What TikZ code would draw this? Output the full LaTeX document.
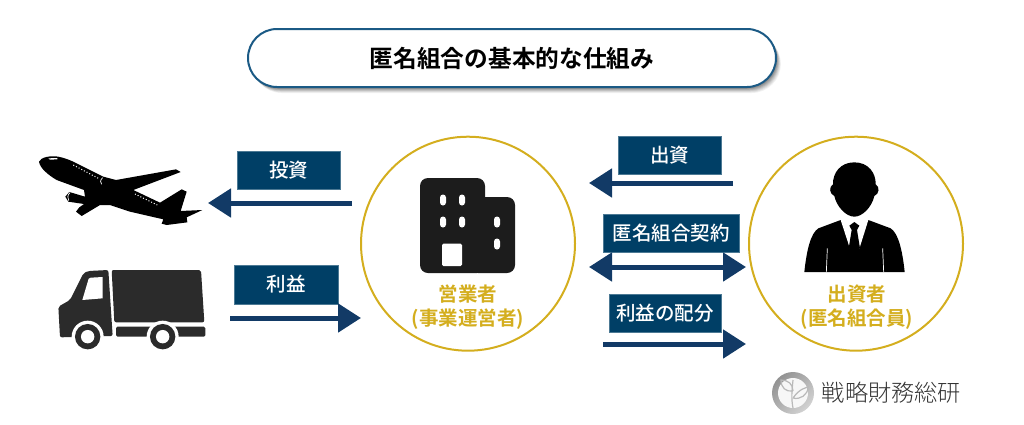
\documentclass[tikz,border=0pt]{standalone}
\usepackage{fontspec}
\usetikzlibrary{arrows.meta}
\newfontfamily\jpr{Noto Sans CJK JP Medium}
\newfontfamily\jpb{Noto Sans CJK JP Bold}
\newfontfamily\jpl{Noto Sans CJK JP Light}
\definecolor{navybox}{HTML}{003F66}
\definecolor{navyarrow}{HTML}{123A66}
\definecolor{gold}{HTML}{D4AE1E}
\definecolor{pillline}{HTML}{1B5A85}
\definecolor{darkicon}{HTML}{1C1C1C}
\definecolor{truckc}{HTML}{2B2B2B}
\tikzset{
  boxlabel/.style={fill=navybox,draw=navybox!70!white,line width=.5pt,text=white,font=\jpr\fontsize{19.5}{19.5}\selectfont,inner sep=0pt,anchor=center},
  flowarrow/.style={draw=navyarrow,line width=5pt,-{Triangle[length=23pt,width=28pt]}},
  bothflow/.style={draw=navyarrow,line width=5pt,{Triangle[length=23pt,width=28pt]}-{Triangle[length=23pt,width=28pt]}},
  partycircle/.style={circle,draw=gold,line width=2pt,fill=white,minimum size=214pt,inner sep=0pt},
  partylabel/.style={text=gold,font=\jpb\fontsize{19.5}{24}\selectfont,align=center},
}
\begin{document}
\begin{tikzpicture}[x=1pt,y=-1pt]
\useasboundingbox (0,0) rectangle (1024,424);
% title
\foreach \o/\a in {8/.05,7/.06,6/.07,5/.08,4/.09,3/.1,2/.1}{
  \fill[black,opacity=\a,rounded corners=29pt] ({248+\o*.6},{29+\o*.75}) rectangle ({776+\o*.6},{87+\o*.75});
}
\node[draw=pillline,line width=2pt,fill=white,rounded corners=29pt,minimum width=528pt,minimum height=58pt,inner sep=0pt,font=\jpb\fontsize{23.7}{24}\selectfont] (title) at (512,58) {匿名組合の基本的な仕組み};
% circles
\node[partycircle] (biz) at (468,243.7) {};
\node[partycircle] (inv) at (856,243.7) {};
% building
\fill[darkicon,rounded corners=8pt] (420,178) rectangle (485,273);
\fill[darkicon,rounded corners=8pt] (470,197) rectangle (515,273);
\foreach \x/\y in {443/200,462/200,443/222,462/222,497/222,497/244}{
  \fill[white,rounded corners=3pt] ({\x-3},{\y-5.5}) rectangle ({\x+3},{\y+5.5});
}
\fill[white,rounded corners=1.5pt] (442,243.5) rectangle (462,266);
\node[partylabel] (bizlabel) at (468,307) {営業者\\(事業運営者)};
\node[partylabel] (invlabel) at (857,307) {出資者\\(匿名組合員)};
% person
\begin{scope}[shift={(740,130)},x=1pt/3,y=-1pt/3]
\fill[black] (343,97) .. controls (300,97) and (278,130) .. (279,163) .. controls (266,170) and (268,192) .. (283,198) .. controls (290,230) and (318,260) .. (343,260) .. controls (368,260) and (396,230) .. (403,198) .. controls (418,192) and (420,170) .. (407,163) .. controls (408,130) and (386,97) .. (343,97) -- cycle;
\fill[black] (193,426) .. controls (200,360) and (212,310) .. (235,295) -- (302,270) -- (385,270) -- (452,295) .. controls (475,310) and (487,360) .. (494,426) -- cycle;
\fill[white] (302,270) -- (385,270) -- (358,356) -- (330,356) -- cycle;
\fill[black] (343,276) -- (358,287) -- (351,300) -- (360,355) -- (343,362) -- (326,355) -- (335,300) -- (328,287) -- cycle;
\draw[white,line width=.7pt] (262,355) -- (259,426);
\draw[white,line width=.7pt] (428,355) -- (431,426);
\end{scope}
% airplane
\begin{scope}[shift={(20,130)},x=1pt/3,y=-1pt/3]
\fill[black] (57,95) .. controls (62,82) and (90,76) .. (115,80) .. controls (135,84) and (150,90) .. (170,100) -- (250,140) -- (288,150) -- (468,118) -- (482,126) -- (340,180) -- (420,218) -- (485,178) -- (500,185) -- (482,243) -- (547,240) -- (500,262) -- (502,277) -- (440,285) -- (425,281) -- (430,268) -- (330,245) -- (270,225) -- (240,225) -- (185,258) -- (168,245) -- (178,232) -- (192,222) -- (145,215) -- (136,200) -- (148,186) -- (195,200) -- (192,180) -- (110,150) .. controls (85,135) and (60,115) .. (57,95) -- cycle;
\draw[white,line width=1pt,dash pattern=on 1pt off 2pt] (160,105) -- (235,145);
\draw[white,line width=1pt,dash pattern=on 1pt off 2pt] (345,192) -- (412,225);
\draw[white,line width=.7pt] (248,143) .. controls (240,150) and (240,158) .. (245,163);
\draw[white,line width=.7pt] (150,188) .. controls (142,195) and (142,205) .. (146,212);
\fill[white] (85,85) -- (112,84) -- (112,88) -- (90,89) -- cycle;
\end{scope}
% truck
\begin{scope}[shift={(20,130)},x=1pt/3,y=-1pt/3]
\fill[truckc,rounded corners=2pt] (275,420) -- (543,420) -- (553,577) -- (283,577) -- cycle;
\fill[truckc,rounded corners=2pt] (115,530) -- (150,510) -- (190,430) -- (205,423) -- (265,420) -- (278,618) -- (120,622) -- cycle;
\fill[truckc,rounded corners=1.5pt] (288,590) -- (556,590) -- (556,620) -- (288,620) -- cycle;
\fill[white] (187,510) -- (206,446) -- (212,443) -- (248,441) -- (248,505) -- cycle;
\foreach \c in {203,428}{
  \fill[white] (\c,620) circle[radius=16pt];
  \fill[truckc] (\c,620) circle[radius=12.7pt];
  \fill[white] (\c,620) circle[radius=6.7pt];
}
\end{scope}
% labelled boxes
\node[boxlabel,minimum width=103pt,minimum height=38pt] (a) at (288.5,170) {投資};
\node[boxlabel,minimum width=104pt,minimum height=39pt] (b) at (286,284.5) {利益};
\node[boxlabel,minimum width=103pt,minimum height=38pt] (c) at (669.5,155) {出資};
\node[boxlabel,minimum width=136pt,minimum height=38pt] (d) at (671,233) {匿名組合契約};
\node[boxlabel,minimum width=112pt,minimum height=38pt] (e) at (665,313) {利益の配分};
% arrows
\coordinate (a1) at (352,203); \coordinate (a2) at (208,203);
\coordinate (b1) at (230,318); \coordinate (b2) at (361,318);
\coordinate (c1) at (733,183); \coordinate (c2) at (589,183);
\coordinate (d1) at (589,267); \coordinate (d2) at (746,267);
\coordinate (e1) at (603,344); \coordinate (e2) at (746,344);
\draw[flowarrow] (a1) -- (a2);
\draw[flowarrow] (b1) -- (b2);
\draw[flowarrow] (c1) -- (c2);
\draw[bothflow] (d1) -- (d2);
\draw[flowarrow] (e1) -- (e2);
% logo
\shade[top color=gray!85,bottom color=gray!35,shading angle=45] (793,393) circle[radius=21pt];
\fill[white!94!gray] (793,393) circle[radius=15pt];
\draw[gray!55,line width=1.2pt] (793,408) .. controls (791,398) and (792,390) .. (793,380);
\draw[gray!55,line width=1.2pt] (793,398) .. controls (800,388) and (806,388) .. (808,387) .. controls (808,395) and (800,400) .. (793,398);
\draw[gray!55,line width=1.2pt] (793,391) .. controls (786,392) and (781,388) .. (781,380) .. controls (788,380) and (793,384) .. (793,391);
\node[font=\jpl\fontsize{23.2}{24}\selectfont,text=black!80,inner sep=0pt] (logotext) at (891.5,393) {戦略財務総研};
\end{tikzpicture}
\end{document}
